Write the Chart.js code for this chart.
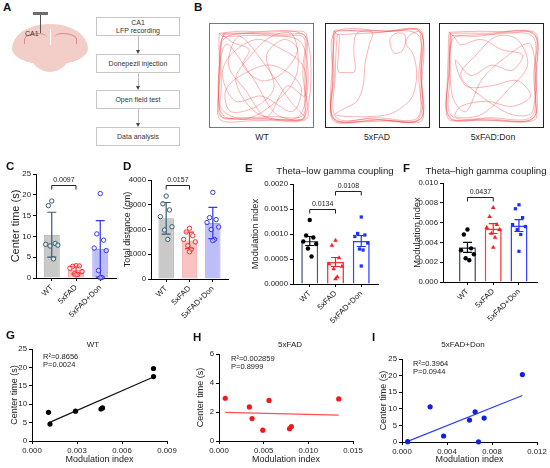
<!DOCTYPE html>
<html>
<head>
<meta charset="utf-8">
<title>Donepezil figure</title>
<script src="https://cdn.jsdelivr.net/npm/chart.js@4.4.1/dist/chart.umd.min.js"></script>
<style>
  body { margin: 0; width: 550px; height: 468px; position: relative; overflow: hidden; background: #fff;
         font-family: "Liberation Sans", Arial, sans-serif; color: #222; }
  .abs { position: absolute; }
  .t { position: absolute; white-space: nowrap; line-height: 1; color: #222; }
  .letter { position: absolute; font-weight: bold; font-size: 11.5px; line-height: 1; color: #111; }
  .step { position: absolute; left: 96px; width: 84px; height: 19px; box-sizing: border-box; border: 1px solid #c6c6c6;
          font-size: 7px; line-height: 8px; color: #333; display: flex; align-items: center; justify-content: center; text-align: center; }
  .stem { position: absolute; left: 137.5px; width: 1px; background: #bdbdbd; }
  .head { position: absolute; left: 135.5px; width: 0; height: 0; border-left: 2.5px solid transparent;
          border-right: 2.5px solid transparent; border-top: 4px solid #444; }
  .arena { position: absolute; top: 23px; width: 105px; height: 105px; box-sizing: border-box; border: 1.5px solid #222; }
  .brain { position: absolute; background: #f3cdc8; }
</style>
</head>
<body>

<!-- panel A: schematic -->
<div class="brain" style="left:12px;top:24px;width:76px;height:40px;border-radius:48% 48% 42% 42% / 62% 62% 38% 38%;"></div>
<div class="brain" style="left:29px;top:44px;width:42px;height:28px;border-radius:30% 30% 50% 50% / 20% 20% 80% 80%;"></div>
<div class="abs" style="left:24px;top:33px;width:22px;height:10px;border-top:1px solid #d98b8b;border-left:1px solid #d98b8b;border-radius:60% 40% 0 0;"></div>
<div class="abs" style="left:54px;top:33px;width:22px;height:10px;border-top:1px solid #d98b8b;border-right:1px solid #d98b8b;border-radius:40% 60% 0 0;"></div>
<div class="abs" style="left:49.5px;top:29px;width:1px;height:16px;background:#fff;"></div>
<div class="abs" style="left:33px;top:12px;width:15px;height:3px;background:#6d6d6d;"></div>
<div class="abs" style="left:39.5px;top:15px;width:1.2px;height:18px;background:#555;"></div>
<div class="t" style="left:25px;top:29.5px;font-size:7px;color:#333;">CA1</div>

<div class="step" style="top:17px;">CA1<br>LFP recording</div>
<div class="stem" style="top:36px;height:14px;"></div><div class="head" style="top:50px;"></div>
<div class="step" style="top:54px;">Donepezil injection</div>
<div class="stem" style="top:73px;height:13px;"></div><div class="head" style="top:86px;"></div>
<div class="step" style="top:90px;">Open field test</div>
<div class="stem" style="top:109px;height:14px;"></div><div class="head" style="top:123px;"></div>
<div class="step" style="top:127px;">Data analysis</div>

<!-- panel B: open field arenas -->
<div class="arena" style="left:209px;border-color:#6b7d7d;"><canvas id="trWT"></canvas></div>
<div class="arena" style="left:325px;"><canvas id="trFAD"></canvas></div>
<div class="arena" style="left:439px;"><canvas id="trDon"></canvas></div>

<script>
// ---------- data ----------
const groups = ['WT', '5xFAD', '5xFAD+Don'];
const arenaNames = ['WT', '5xFAD', '5xFAD:Don'];

// C: center time (s), mean +/- SD
const cWT = [18.5, 17.4, 8.3, 8.1, 7.9, 7.7, 4.6];
const cFAD = [2.95, 2.8, 2.9, 2.35, 1.55, 1.0, 0.85, 0.75];
const cDon = [20.3, 10.6, 9.1, 7.2, 6.6, 1.8, 0.1, 0.05];
const cMean = [10.4, 1.9, 7.0];
const cErr = [5.4, 0.9, 6.8];
const cTicks = [0, 5, 10, 15, 20, 25];
const cSig = [[0, 1, 22.4, '0.0097']];

// D: total distance (cm), mean +/- SD
const dWT = [3350, 3040, 2790, 2520, 2110, 1980, 1600];
const dFAD = [2050, 1900, 1750, 1600, 1500, 1350, 1200, 1100];
const dDon = [3500, 2480, 2400, 2280, 2100, 2000, 1600, 1550];
const dMean = [2450, 1560, 2260];
const dErr = [640, 330, 630];
const dTicks = [0, 1000, 2000, 3000, 4000];
const dSig = [[0, 1, 3800, '0.0157']];

// E: theta-low gamma modulation index, mean +/- SEM
const eWT = [0.00128, 0.00097, 0.00093, 0.00085, 0.00080, 0.00071, 0.00055];
const eFAD = [0.00087, 0.00077, 0.00052, 0.00040, 0.00035, 0.00030, 0.00014, 0.00010];
const eDon = [0.00134, 0.00101, 0.00098, 0.00095, 0.00082, 0.00070, 0.00068, 0.00036];
const eMean = [0.00086, 0.00044, 0.00086];
const eErr = [0.00009, 0.00009, 0.00011];
const eTicks = [0, 0.0005, 0.001, 0.0015, 0.002];
const eSig = [[0, 1, 0.00150, '0.0134'], [1, 2, 0.00186, '0.0108']];

// F: theta-high gamma modulation index, mean +/- SEM
const fWT = [0.0053, 0.0048, 0.0034, 0.0032, 0.0028, 0.0024, 0.0022];
const fFAD = [0.0075, 0.0066, 0.0058, 0.0055, 0.0053, 0.0049, 0.0045, 0.0035];
const fDon = [0.0078, 0.0074, 0.0065, 0.0058, 0.0056, 0.0053, 0.0048, 0.0031];
const fMean = [0.0035, 0.0054, 0.0057];
const fErr = [0.0005, 0.0005, 0.0006];
const fTicks = [0, 0.002, 0.004, 0.006, 0.008, 0.010];
const fSig = [[0, 1, 0.0086, '0.0437']];

// G-I: center time vs modulation index
const gX = [0.0011, 0.0012, 0.0029, 0.0046, 0.0047, 0.0081, 0.0081];
const gY = [7.8, 4.6, 8.1, 8.7, 9.0, 19.7, 17.5];
const hX = [0.0007, 0.0034, 0.0037, 0.0049, 0.0056, 0.0079, 0.0081, 0.0134];
const hY = [2.95, 2.35, 1.55, 0.75, 2.8, 0.85, 1.0, 2.9];
const iX = [0.0005, 0.0025, 0.0037, 0.0060, 0.0065, 0.0068, 0.0073, 0.0107];
const iY = [0.1, 10.6, 1.8, 6.6, 9.1, 0.05, 7.2, 20.3];
const gXTicks = [0, 0.003, 0.006, 0.009];
const hXTicks = [0, 0.005, 0.010, 0.015];
const iXTicks = [0, 0.004, 0.008, 0.012];
const gYTicks = [0, 5, 10, 15, 20, 25];
const hYTicks = [0, 2, 4, 6];
const iYTicks = [0, 5, 10, 15, 20, 25];
const fitText = {G: ['R²=0.8656', 'P=0.0024'], H: ['R²=0.002859', 'P=0.8999'], I: ['R²=0.3964', 'P=0.0944']};

// B: traced paths in the arenas (0-100 box units, y downwards)
const wtTrack = [
  [9,9],[30,7],[55,8],[80,7],[93,9],[94,35],[93,65],[94,92],[70,93],[40,94],[10,93],[8,70],[9,40],[9,9],
  [12,12],[40,11],[70,12],[91,13],[90,45],[91,88],[60,90],[30,91],[11,90],[11,60],[12,12],
  [22,18],[38,25],[32,40],[50,55],[70,48],[85,25],[72,15],[55,30],[62,62],[45,80],[20,85],[15,65],[30,50],
  [60,40],[88,60],[80,85],[50,70],[25,75],[12,50],[20,30],[45,15],[65,22],[90,40],[92,70],[75,60],[55,90],
  [35,65],[18,40],[28,12],[50,35],[78,75],[92,92],[65,88],[40,50],[15,20],[10,80],[35,92],[70,70],[85,45],
  [80,10],[60,12],[40,30],[25,55],[48,88],[88,88],[90,20],[50,10],[14,14],[10,45],[12,88],[50,92],[92,90],
  [93,12],[12,10],[14,9],[45,9],[75,10],[92,11],[92,40],[92,75],[90,92],[55,92],[20,92],[9,88],[9,55],[10,20],[14,9]
];
const fadTrack = [
  [8,7],[35,6],[65,7],[92,6],[93,35],[92,70],[93,94],[65,94],[35,95],[7,94],[6,65],[7,30],[8,7],
  [11,10],[40,9],[89,10],[90,50],[89,91],[50,91],[10,91],[9,50],[11,10],
  [13,12],[12,30],[12,46],[20,47],[28,46],[27,25],[30,9],[45,8],[42,20],[38,38],[36,60],[30,75],[18,82],[9,88],
  [30,90],[60,88],[75,80],[84,70],[88,50],[85,30],[78,20],[76,10],[68,9],[62,15],[66,28],[74,26],[80,12],[91,8],
  [92,40],[90,92],[55,93],[8,92],[7,50],[9,8],[60,7],[92,8],[92,50],[92,92],[50,93],[7,92],[8,50],[7,9],
  [10,6],[50,8],[91,7],[93,60],[91,93],[40,92],[8,93],[6,40],[9,8]
];
const donTrack = [
  [9,8],[40,7],[70,8],[93,9],[94,40],[93,75],[92,93],[60,94],[30,93],[8,92],[7,60],[8,30],[9,8],
  [12,11],[50,10],[90,12],[91,50],[89,90],[50,91],[11,89],[10,50],[12,11],
  [20,20],[40,15],[60,25],[80,30],[70,45],[50,40],[30,50],[15,35],[25,60],[50,60],[75,55],[88,70],[70,80],
  [45,75],[20,80],[15,90],[40,88],[65,65],[85,40],[75,15],[55,12],[35,30],[20,50],[40,70],[70,88],[90,85],
  [88,20],[60,35],[40,55],[25,85],[12,70],[12,15],[35,12],[91,10],[92,60],[90,92],[45,93],[9,90],[9,40],[10,10],
  [10,9],[45,9],[91,9],[92,45],[91,91],[45,92],[9,91],[9,45],[10,9]
];

// ---------- helpers ----------
const FONT = '"Liberation Sans", Arial, sans-serif';
Chart.defaults.font.family = FONT;
Chart.defaults.color = '#222';
const jit = [0, -0.14, 0.14, -0.25, 0.25, -0.07, 0.07, 0];

function holder(area, pad) {
  const div = document.createElement('div');
  div.className = 'abs';
  div.style.left = (area.l - pad.l) + 'px';
  div.style.top = (area.t - pad.t) + 'px';
  div.style.width = (area.r - area.l + pad.l + pad.r) + 'px';
  div.style.height = (area.b - area.t + pad.t + pad.b) + 'px';
  const cv = document.createElement('canvas');
  div.appendChild(cv);
  document.body.appendChild(div);
  return cv;
}

function text(s, x, y, size, center, cls) {
  const d = document.createElement('div');
  d.className = cls || 't';
  d.textContent = s;
  d.style.left = x + 'px';
  d.style.top = y + 'px';
  if (size) d.style.fontSize = size + 'px';
  d.style.transform = center ? 'translate(-50%,-50%)' : 'translate(0,-50%)';
  document.body.appendChild(d);
}

function valAxis(ticks, fmt, title, tsize, w, horiz) {
  const ax = {
    type: 'linear', min: ticks[0], max: ticks[ticks.length - 1], offset: false,
    afterBuildTicks: s => { s.ticks = ticks.map(v => ({value: v})); },
    ticks: {font: {size: 7.8}, color: '#222', padding: 2, autoSkip: false, minRotation: 0, maxRotation: 0,
            callback: v => fmt(v)},
    grid: {drawOnChartArea: false, drawTicks: true, tickLength: 3, color: '#000', lineWidth: 1, offset: false},
    border: {display: true, color: '#000', width: 1},
    title: {display: !!title, text: title, color: '#222', font: {size: tsize}, padding: 0}
  };
  ax.afterFit = horiz ? (s => { s.height = w; }) : (s => { s.width = w; });
  return ax;
}

function catAxis(lo, hi, h) {
  return {
    type: 'linear', min: lo, max: hi, offset: false,
    afterBuildTicks: s => { s.ticks = groups.map((g, i) => ({value: i})); },
    ticks: {autoSkip: false, minRotation: 45, maxRotation: 45, font: {size: 7.8}, color: '#222', padding: 2,
            callback: v => groups[v]},
    grid: {drawOnChartArea: false, drawTicks: true, tickLength: 3, color: '#000', lineWidth: 1, offset: false},
    border: {display: true, color: '#000', width: 1},
    afterFit: s => { s.height = h; }
  };
}

function errBars(mean, err, colors, cap) {
  return {
    id: 'errBars',
    afterDatasetDraw(chart, args) {
      if (args.meta.type !== 'bar') return;
      const {ctx, scales: {x, y}} = chart;
      ctx.save();
      ctx.lineWidth = 1.2;
      mean.forEach((m, i) => {
        const px = x.getPixelForValue(i);
        const top = y.getPixelForValue(m + err[i]);
        const bot = y.getPixelForValue(m - err[i]);
        ctx.strokeStyle = colors[i];
        ctx.beginPath();
        ctx.moveTo(px, top); ctx.lineTo(px, bot);
        ctx.moveTo(px - cap, top); ctx.lineTo(px + cap, top);
        ctx.moveTo(px - cap, bot); ctx.lineTo(px + cap, bot);
        ctx.stroke();
      });
      ctx.restore();
    }
  };
}

function brackets(list) {
  return {
    id: 'brackets',
    afterDraw(chart) {
      const {ctx, scales: {x, y}} = chart;
      ctx.save();
      ctx.strokeStyle = '#222'; ctx.fillStyle = '#222'; ctx.lineWidth = 1;
      ctx.font = '7px ' + FONT; ctx.textAlign = 'center'; ctx.textBaseline = 'bottom';
      list.forEach(([a, b, v, label]) => {
        const x1 = x.getPixelForValue(a), x2 = x.getPixelForValue(b);
        const py = Math.round(y.getPixelForValue(v)) + 0.5;
        ctx.beginPath();
        ctx.moveTo(x1, py + 4); ctx.lineTo(x1, py); ctx.lineTo(x2, py); ctx.lineTo(x2, py + 4);
        ctx.stroke();
        ctx.fillText(label, (x1 + x2) / 2, py - 2);
      });
      ctx.restore();
    }
  };
}

function barChart(o) {
  const cv = holder(o.area, o.pad);
  const sets = [{
    type: 'bar', order: 3,
    data: o.mean.map((m, i) => ({x: i, y: m})),
    backgroundColor: o.fill, borderColor: o.edge, borderWidth: o.edgeW,
    barPercentage: 0.66, categoryPercentage: 1
  }];
  o.dots.forEach((vals, g) => sets.push({
    type: 'scatter', order: 1, clip: false,
    data: vals.map((v, k) => ({x: g + jit[k % jit.length], y: v})),
    pointStyle: o.shape[g], pointRadius: o.r[g], pointBorderWidth: o.dotW,
    pointBorderColor: o.dot[g], pointBackgroundColor: o.dotFill[g]
  }));
  return new Chart(cv, {
    type: 'bar',
    data: {datasets: sets},
    options: {
      responsive: true, maintainAspectRatio: false, animation: false,
      layout: {padding: {top: o.pad.t, right: o.pad.r, left: 0, bottom: 0}},
      plugins: {legend: {display: false}, tooltip: {enabled: false}},
      scales: {
        x: catAxis(o.xr[0], o.xr[1], o.pad.b),
        y: valAxis(o.yTicks, o.fmt, o.yTitle, o.yTitleSize, o.pad.l, false)
      }
    },
    plugins: [errBars(o.mean, o.err, o.errC, o.cap), brackets(o.sig)]
  });
}

function fitLine(xs, ys) {
  const n = xs.length;
  const mx = xs.reduce((a, b) => a + b, 0) / n;
  const my = ys.reduce((a, b) => a + b, 0) / n;
  let sxy = 0, sxx = 0;
  xs.forEach((x, k) => { sxy += (x - mx) * (ys[k] - my); sxx += (x - mx) * (x - mx); });
  const slope = sxy / sxx, icpt = my - slope * mx;
  const x0 = Math.min(...xs), x1 = Math.max(...xs);
  return [{x: x0, y: icpt + slope * x0}, {x: x1, y: icpt + slope * x1}];
}

function scatterChart(o) {
  const cv = holder(o.area, o.pad);
  return new Chart(cv, {
    type: 'scatter',
    data: {datasets: [
      {data: o.xs.map((x, k) => ({x, y: o.ys[k]})), order: 1, clip: false,
       pointRadius: 2.6, pointBorderWidth: 0, pointBackgroundColor: o.color, pointBorderColor: o.color},
      {type: 'line', order: 2, data: fitLine(o.xs, o.ys), borderColor: o.lineColor, borderWidth: 1.2,
       pointRadius: 0, fill: false}
    ]},
    options: {
      responsive: true, maintainAspectRatio: false, animation: false,
      layout: {padding: {top: o.pad.t, right: o.pad.r, left: 0, bottom: 0}},
      plugins: {legend: {display: false}, tooltip: {enabled: false}},
      scales: {
        x: valAxis(o.xTicks, v => v.toFixed(3), 'Modulation index', 9, o.pad.b, true),
        y: valAxis(o.yTicks, v => String(v), 'Center time (s)', 9, o.pad.l, false)
      }
    }
  });
}

function arena(id, track) {
  new Chart(document.getElementById(id), {
    type: 'scatter',
    data: {datasets: [{
      data: track.map(p => ({x: p[0], y: p[1]})),
      showLine: true, tension: 0.33, pointRadius: 0,
      borderColor: 'rgba(240,55,55,0.62)', borderWidth: 0.6
    }]},
    options: {
      responsive: true, maintainAspectRatio: false, animation: false,
      layout: {padding: 0},
      plugins: {legend: {display: false}, tooltip: {enabled: false}},
      scales: {
        x: {display: false, min: 0, max: 100},
        y: {display: false, min: 0, max: 100, reverse: true}
      }
    }
  });
}

// ---------- panel B ----------
arena('trWT', wtTrack);
arena('trFAD', fadTrack);
arena('trDon', donTrack);
[262, 377, 493].forEach((x, i) => text(arenaNames[i], x, 137, 8.7, true));

// ---------- panels C, D ----------
const sdStyle = {
  fill: ['#c9c9c9', '#f9c3c3', '#bdbdf7'], edge: ['#a9a9a9', '#f3a1a1', '#a2a2ef'], edgeW: 1,
  dot: ['#355e70', '#ff2a2a', '#3535f0'], dotFill: ['rgba(255,255,255,0.5)', 'rgba(255,255,255,0.4)', 'rgba(255,255,255,0.4)'],
  shape: ['circle', 'circle', 'circle'], r: [2.2, 2.2, 2.2], dotW: 1,
  errC: ['#355e70', '#ff2a2a', '#3535f0'], cap: 4.5, xr: [-0.65, 2.65]
};
barChart(Object.assign({}, sdStyle, {
  area: {l: 36, r: 117, t: 174, b: 278}, pad: {l: 27, r: 4, t: 10, b: 42},
  mean: cMean, err: cErr, dots: [cWT, cFAD, cDon], yTicks: cTicks, fmt: v => String(v),
  yTitle: 'Center time (s)', yTitleSize: 11, sig: cSig
}));
barChart(Object.assign({}, sdStyle, {
  area: {l: 151, r: 229, t: 180, b: 279}, pad: {l: 29, r: 4, t: 10, b: 42},
  mean: dMean, err: dErr, dots: [dWT, dFAD, dDon], yTicks: dTicks, fmt: v => String(v),
  yTitle: 'Total distance (cm)', yTitleSize: 9, sig: dSig
}));

// ---------- panels E, F ----------
const semStyle = {
  fill: ['#fff', '#fff', '#fff'], edge: ['#4a5878', '#ff3b3b', '#3445ff'], edgeW: 1.6,
  dot: ['#000', '#ff1f1f', '#1f2fff'], dotFill: ['#000', '#ff1f1f', '#1f2fff'],
  shape: ['circle', 'triangle', 'rect'], r: [2.2, 2.7, 2.3], dotW: 0,
  errC: ['#000', '#ff1f1f', '#1f2fff'], cap: 4.5
};
barChart(Object.assign({}, semStyle, {
  area: {l: 293, r: 378, t: 184, b: 284}, pad: {l: 43, r: 4, t: 10, b: 42}, xr: [-0.65, 2.65],
  mean: eMean, err: eErr, dots: [eWT, eFAD, eDon], yTicks: eTicks, fmt: v => v.toFixed(4),
  yTitle: 'Modulation index', yTitleSize: 9.3, sig: eSig
}));
barChart(Object.assign({}, semStyle, {
  area: {l: 443, r: 537, t: 183, b: 282}, pad: {l: 31, r: 4, t: 10, b: 42}, xr: [-0.95, 2.7],
  mean: fMean, err: fErr, dots: [fWT, fFAD, fDon], yTicks: fTicks, fmt: v => v.toFixed(3),
  yTitle: 'Modulation index', yTitleSize: 9.3, sig: fSig
}));
text('Theta–low gamma coupling', 335, 171, 9.6, true);
text('Theta–high gamma coupling', 486, 171, 9.6, true);

// ---------- panels G, H, I ----------
scatterChart({area: {l: 32, r: 167, t: 349, b: 441}, pad: {l: 23, r: 12, t: 8, b: 24},
  xs: gX, ys: gY, xTicks: gXTicks, yTicks: gYTicks, color: '#000', lineColor: '#111'});
scatterChart({area: {l: 219, r: 353, t: 354, b: 441}, pad: {l: 24, r: 12, t: 8, b: 24},
  xs: hX, ys: hY, xTicks: hXTicks, yTicks: hYTicks, color: '#f01818', lineColor: '#ff5050'});
scatterChart({area: {l: 402, r: 537, t: 359, b: 442}, pad: {l: 24, r: 12, t: 8, b: 23},
  xs: iX, ys: iY, xTicks: iXTicks, yTicks: iYTicks, color: '#1020e0', lineColor: '#3040f0'});
text('WT', 93, 345, 8, true);
text('5xFAD', 290, 345, 8, true);
text('5xFAD+Don', 463, 345, 8, true);
text(fitText.G[0], 43, 357, 7.5); text(fitText.G[1], 43, 364.5, 7.5);
text(fitText.H[0], 231, 359, 7.5); text(fitText.H[1], 231, 366.5, 7.5);
text(fitText.I[0], 413, 364, 7.5); text(fitText.I[1], 413, 371.5, 7.5);

// ---------- panel letters ----------
[['A', 3, 8], ['B', 194, 8], ['C', 6, 167], ['D', 123, 167], ['E', 245, 169], ['F', 403, 169],
 ['G', 6, 336], ['H', 193, 338], ['I', 372, 338]].forEach(([s, x, y]) => text(s, x, y, null, false, 'letter'));
</script>
</body>
</html>
